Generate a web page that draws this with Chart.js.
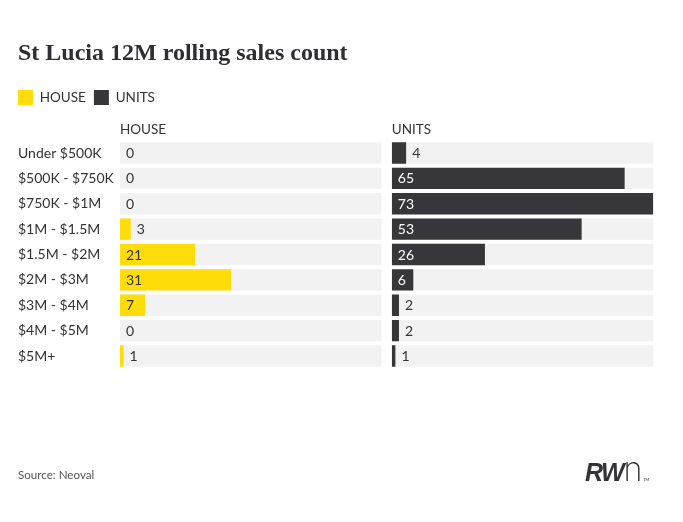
<!DOCTYPE html>
<html>
<head>
<meta charset="utf-8">
<script src="https://cdn.jsdelivr.net/npm/chart.js"></script>
<style>
  html, body { margin: 0; padding: 0; background: #ffffff; }
  #wrap { position: relative; width: 683px; height: 522px; overflow: hidden; }
  #chart { display: block; }
  #source { position: absolute; left: 18px; top: 468px; font-family: Lato, sans-serif; font-size: 11.6px; color: #555; }
  #logo { position: absolute; left: 585px; top: 452px; color: #333338; white-space: nowrap; line-height: 1; }
  #logo .rw { font-family: "Liberation Sans", Arial, sans-serif; font-weight: bold; font-style: italic; font-size: 25px; letter-spacing: -1.5px; }
  #logo .n { font-family: Inter, Lato, sans-serif; font-weight: 200; font-size: 34px; display: inline-block; transform: scaleX(0.95); }
  #logo .tm { font-family: Lato, sans-serif; font-size: 4px; }
</style>
</head>
<body>
<div id="wrap">
  <canvas id="chart" width="683" height="522"></canvas>
  <div id="source">Source: Neoval</div>
  <div id="logo"><span class="rw">RW</span><span class="n">n</span><span class="tm">TM</span></div>
</div>
<script>
// ---- data ----
const categories = ['Under $500K', '$500K - $750K', '$750K - $1M', '$1M - $1.5M', '$1.5M - $2M', '$2M - $3M', '$3M - $4M', '$4M - $5M', '$5M+'];
const houseValues = [0, 0, 0, 3, 21, 31, 7, 0, 1];
const unitValues = [4, 65, 73, 53, 26, 6, 2, 2, 1];
const seriesNames = ['HOUSE', 'UNITS'];
const chartTitle = 'St Lucia 12M rolling sales count';
const scaleMax = 73;

// ---- styles ----
const HOUSE_COLOR = '#FFDC0A';
const UNIT_COLOR = '#37363B';
const TRACK_COLOR = '#F2F2F2';
const TEXT_COLOR = '#333333';

// grey tracks behind each bar, spanning the full width of its panel scale
const tracks = {
  id: 'tracks',
  beforeDatasetsDraw(chart) {
    const ctx = chart.ctx;
    ctx.save();
    ctx.fillStyle = TRACK_COLOR;
    chart.data.datasets.forEach((ds, i) => {
      const meta = chart.getDatasetMeta(i);
      const xs = chart.scales[ds.xAxisID];
      meta.data.forEach(bar => {
        ctx.fillRect(xs.left, bar.y - bar.height / 2, xs.right - xs.left, bar.height);
      });
    });
    ctx.restore();
  }
};

// value labels: inside the bar if it is wide enough, otherwise just after it
const valueLabels = {
  id: 'valueLabels',
  afterDatasetsDraw(chart) {
    const ctx = chart.ctx;
    ctx.save();
    ctx.font = '14px Lato';
    ctx.textBaseline = 'middle';
    ctx.textAlign = 'left';
    chart.data.datasets.forEach((ds, i) => {
      const meta = chart.getDatasetMeta(i);
      meta.data.forEach((bar, j) => {
        const v = ds.data[j];
        const w = Math.abs(bar.x - bar.base);
        const inside = w > 18;
        ctx.fillStyle = inside ? ds.labelInsideColor : TEXT_COLOR;
        const x = inside ? bar.base + 6 : bar.x + 6;
        ctx.fillText(String(v), x, bar.y + 0.5);
      });
    });
    ctx.restore();
  }
};

// align the legend's first swatch with the title's left edge
const legendAlign = {
  id: 'legendAlign',
  afterLayout(chart) {
    if (chart.legend) chart.legend.left -= chart.options.plugins.legend.labels.padding;
  }
};

const panelAxis = (title, weight, stackWeight) => ({
  axis: 'x',
  type: 'linear',
  position: 'top',
  stack: 'panels',
  stackWeight: stackWeight,
  weight: weight,
  min: 0,
  max: scaleMax,
  grid: { display: false, drawTicks: false },
  border: { display: false },
  ticks: { display: false },
  title: {
    display: !!title,
    text: title || '',
    align: 'start',
    color: TEXT_COLOR,
    font: { family: 'Lato', size: 13.5, lineHeight: 1.2 },
    padding: { top: 6.2, bottom: 2.9 }
  }
});

new Chart(document.getElementById('chart'), {
  type: 'bar',
  data: {
    labels: categories,
    datasets: [
      {
        label: seriesNames[0],
        data: houseValues,
        xAxisID: 'x1',
        backgroundColor: HOUSE_COLOR,
        borderWidth: 0,
        labelInsideColor: TEXT_COLOR
      },
      {
        label: seriesNames[1],
        data: unitValues,
        xAxisID: 'x2',
        backgroundColor: UNIT_COLOR,
        borderWidth: 0,
        labelInsideColor: '#FFFFFF'
      }
    ]
  },
  options: {
    responsive: false,
    animation: false,
    indexAxis: 'y',
    layout: { padding: { left: 18, right: 29.7, top: 0, bottom: 153.3 } },
    datasets: { bar: { grouped: false, categoryPercentage: 1, barPercentage: 0.843 } },
    scales: {
      y: {
        position: 'left',
        offset: true,
        grid: { display: false, drawTicks: false },
        border: { display: false },
        ticks: { crossAlign: 'far', color: TEXT_COLOR, font: { family: 'Lato', size: 14 }, padding: 0 },
        afterFit(scale) { scale.width = 102; }
      },
      x1: panelAxis('HOUSE', 3, 261.5),
      xg: panelAxis('', 2, 10.3),
      x2: panelAxis('UNITS', 1, 261.5)
    },
    plugins: {
      title: {
        display: true,
        text: chartTitle,
        align: 'start',
        color: '#2E2E33',
        font: { family: 'Liberation Serif', size: 24, weight: 'bold', lineHeight: 1.2 },
        padding: { top: 39.6, bottom: 13.6 }
      },
      legend: {
        display: true,
        position: 'top',
        align: 'start',
        labels: {
          boxWidth: 15,
          boxHeight: 15,
          padding: 8,
          color: TEXT_COLOR,
          font: { family: 'Lato', size: 13.5 }
        }
      },
      tooltip: { enabled: false }
    }
  },
  plugins: [tracks, valueLabels, legendAlign]
});
</script>
</body>
</html>
